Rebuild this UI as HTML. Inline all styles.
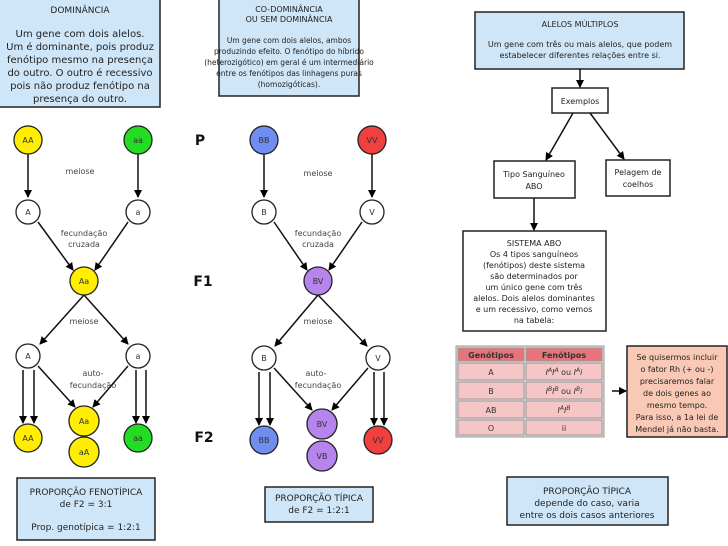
<!DOCTYPE html>
<html><head><meta charset="utf-8"><style>
body{margin:0;background:#fff}
svg{display:block;font-family:"DejaVu Sans","Liberation Sans",sans-serif}
</style></head><body>
<svg width="728" height="546" viewBox="0 0 728 546">
<defs><marker id="ar" markerWidth="8" markerHeight="8" refX="7" refY="4" orient="auto" markerUnits="userSpaceOnUse"><path d="M0,0 L8,4 L0,8 z" fill="#000"/></marker></defs>
<rect width="728" height="546" fill="#fff"/>
<g stroke="#222" stroke-width="1.5">
<rect x="-2" y="-2" width="162" height="109" fill="#cfe6f8"/>
<rect x="219" y="-2" width="140" height="98" fill="#cfe6f8"/>
<rect x="475" y="12" width="209" height="57" fill="#cfe6f8"/>
<rect x="17" y="478" width="138" height="62" fill="#cfe6f8"/>
<rect x="265" y="487" width="108" height="35" fill="#cfe6f8"/>
<rect x="507" y="477" width="161" height="48" fill="#cfe6f8"/>
<rect x="552" y="88" width="56" height="25" fill="#fff"/>
<rect x="494" y="161" width="81" height="37" fill="#fff"/>
<rect x="606" y="160" width="64" height="36" fill="#fff"/>
<rect x="463" y="231" width="143" height="100" fill="#fff"/>
<rect x="627" y="346" width="100" height="91" fill="#f9c9b6"/>
</g>
<g font-size="9" fill="#222" text-anchor="middle">
<text x="80" y="13">DOMINÂNCIA</text>
<g font-size="10"><text x="80" y="37">Um gene com dois alelos.</text><text x="80" y="50">Um é dominante, pois produz</text><text x="80" y="63">fenótipo mesmo na presença</text><text x="80" y="76">do outro. O outro é recessivo</text><text x="80" y="89">pois não produz fenótipo na</text><text x="80" y="102">presença do outro.</text></g>
<text x="289" y="12" font-size="8">CO-DOMINÂNCIA</text><text x="289" y="22" font-size="8">OU SEM DOMINÂNCIA</text>
<g font-size="7.5"><text x="289" y="43">Um gene com dois alelos, ambos</text><text x="289" y="54">produzindo efeito. O fenótipo do híbrido</text><text x="289" y="65">(heterozigótico) em geral é um intermediário</text><text x="289" y="76">entre os fenótipos das linhagens puras</text><text x="289" y="87">(homozigóticas).</text></g>
<text x="580" y="27" font-size="8">ALELOS MÚLTIPLOS</text>
<text x="580" y="47" font-size="8">Um gene com três ou mais alelos, que podem</text><text x="580" y="58" font-size="8">estabelecer diferentes relações entre si.</text>
<text x="580" y="104" font-size="8">Exemplos</text>
<text x="534" y="177" font-size="8">Tipo Sanguíneo</text><text x="534" y="189" font-size="8">ABO</text>
<text x="638" y="175" font-size="8">Pelagem de</text><text x="638" y="187" font-size="8">coelhos</text>
<g font-size="8"><text x="534" y="246">SISTEMA ABO</text><text x="534" y="257">Os 4 tipos sanguíneos</text><text x="534" y="268">(fenótipos) deste sistema</text><text x="534" y="279">são determinados por</text><text x="534" y="290">um único gene com três</text><text x="534" y="301">alelos. Dois alelos dominantes</text><text x="534" y="312">e um recessivo, como vemos</text><text x="534" y="323">na tabela:</text></g>
<g font-size="8"><text x="677" y="360">Se quisermos incluir</text><text x="677" y="372">o fator Rh (+ ou -)</text><text x="677" y="384">precisaremos falar</text><text x="677" y="396">de dois genes ao</text><text x="677" y="408">mesmo tempo.</text><text x="677" y="420">Para isso, a 1a lei de</text><text x="677" y="432">Mendel já não basta.</text></g>
<text x="86" y="495">PROPORÇÃO FENOTÍPICA</text><text x="86" y="507">de F2 = 3:1</text><text x="86" y="530">Prop. genotípica = 1:2:1</text>
<text x="319" y="501">PROPORÇÃO TÍPICA</text><text x="319" y="513">de F2 = 1:2:1</text>
<text x="587" y="494">PROPORÇÃO TÍPICA</text><text x="587" y="506">depende do caso, varia</text><text x="587" y="518">entre os dois casos anteriores</text>
<g font-size="8" fill="#444"><text x="80" y="174">meiose</text><text x="84" y="236">fecundação</text><text x="84" y="247">cruzada</text><text x="84" y="324">meiose</text><text x="93" y="376">auto-</text><text x="93" y="388">fecundação</text>
<text x="318" y="176">meiose</text><text x="318" y="236">fecundação</text><text x="318" y="247">cruzada</text><text x="318" y="324">meiose</text><text x="316" y="376">auto-</text><text x="318" y="388">fecundação</text></g>
<g font-size="14" font-weight="bold" fill="#111"><text x="200" y="145">P</text><text x="203" y="286">F1</text><text x="204" y="442">F2</text></g>
</g>
<g stroke="#999" stroke-width="1">
<rect x="456" y="346" width="148" height="91" fill="#ddd"/>
<rect x="458" y="348" width="66" height="13" fill="#e8737a"/><rect x="526" y="348" width="76" height="13" fill="#e8737a"/>
<rect x="458" y="363" width="66" height="17" fill="#f6c5c5"/><rect x="526" y="363" width="76" height="17" fill="#f6c5c5"/>
<rect x="458" y="382" width="66" height="17" fill="#f6c5c5"/><rect x="526" y="382" width="76" height="17" fill="#f6c5c5"/>
<rect x="458" y="401" width="66" height="17" fill="#f6c5c5"/><rect x="526" y="401" width="76" height="17" fill="#f6c5c5"/>
<rect x="458" y="420" width="66" height="15" fill="#f6c5c5"/><rect x="526" y="420" width="76" height="15" fill="#f6c5c5"/>
</g>
<g font-size="8" fill="#333" text-anchor="middle">
<text x="491" y="358" font-weight="bold">Genótipos</text><text x="564" y="358" font-weight="bold">Fenótipos</text>
<text x="491" y="375">A</text><text x="564" y="375" font-style="italic">I<tspan font-size="6" dy="-3">A</tspan><tspan dy="3">I</tspan><tspan font-size="6" dy="-3">A</tspan><tspan dy="3" font-style="normal"> ou </tspan>I<tspan font-size="6" dy="-3">A</tspan><tspan dy="3">i</tspan></text>
<text x="491" y="394">B</text><text x="564" y="394" font-style="italic">I<tspan font-size="6" dy="-3">B</tspan><tspan dy="3">I</tspan><tspan font-size="6" dy="-3">B</tspan><tspan dy="3" font-style="normal"> ou </tspan>I<tspan font-size="6" dy="-3">B</tspan><tspan dy="3">i</tspan></text>
<text x="491" y="413">AB</text><text x="564" y="413" font-style="italic">I<tspan font-size="6" dy="-3">A</tspan><tspan dy="3">I</tspan><tspan font-size="6" dy="-3">B</tspan></text>
<text x="491" y="431">O</text><text x="564" y="431">ii</text>
</g>
<g stroke="#111" stroke-width="1.5" fill="none" marker-end="url(#ar)">
<line x1="580" y1="69" x2="580" y2="87"/>
<line x1="573" y1="113" x2="546" y2="160"/>
<line x1="590" y1="113" x2="624" y2="159"/>
<line x1="534" y1="198" x2="534" y2="230"/>
<line x1="612" y1="391" x2="626" y2="391"/>
<line x1="28" y1="154" x2="28" y2="197"/>
<line x1="138" y1="154" x2="138" y2="197"/>
<line x1="38" y1="222" x2="73" y2="270"/>
<line x1="128" y1="222" x2="95" y2="270"/>
<line x1="84" y1="295" x2="40" y2="344"/>
<line x1="84" y1="295" x2="128" y2="344"/>
<line x1="23" y1="370" x2="23" y2="423"/><line x1="34" y1="370" x2="34" y2="423"/>
<line x1="38" y1="366" x2="75" y2="407"/><line x1="128" y1="366" x2="93" y2="407"/>
<line x1="136" y1="370" x2="136" y2="423"/><line x1="146" y1="370" x2="146" y2="423"/>
<line x1="264" y1="154" x2="264" y2="197"/>
<line x1="372" y1="154" x2="372" y2="197"/>
<line x1="274" y1="222" x2="307" y2="270"/>
<line x1="362" y1="222" x2="329" y2="270"/>
<line x1="318" y1="295" x2="275" y2="346"/>
<line x1="318" y1="295" x2="367" y2="346"/>
<line x1="259" y1="372" x2="259" y2="425"/><line x1="270" y1="372" x2="270" y2="425"/>
<line x1="274" y1="368" x2="312" y2="410"/><line x1="368" y1="368" x2="332" y2="410"/>
<line x1="374" y1="372" x2="374" y2="425"/><line x1="384" y1="372" x2="384" y2="425"/>
</g>
<g stroke="#222" stroke-width="1.3">
<circle cx="28" cy="140" r="14" fill="#ffee00"/><circle cx="138" cy="140" r="14" fill="#22dd22"/>
<circle cx="28" cy="212" r="12" fill="#fff"/><circle cx="138" cy="212" r="12" fill="#fff"/>
<circle cx="84" cy="281" r="14" fill="#ffee00"/>
<circle cx="28" cy="356" r="12" fill="#fff"/><circle cx="138" cy="356" r="12" fill="#fff"/>
<circle cx="28" cy="438" r="14" fill="#ffee00"/><circle cx="84" cy="421" r="15" fill="#ffee00"/><circle cx="84" cy="452" r="15" fill="#ffee00"/><circle cx="138" cy="438" r="14" fill="#22dd22"/>
<circle cx="264" cy="140" r="14" fill="#6f8ef0"/><circle cx="372" cy="140" r="14" fill="#f04040"/>
<circle cx="264" cy="212" r="12" fill="#fff"/><circle cx="372" cy="212" r="12" fill="#fff"/>
<circle cx="318" cy="281" r="14" fill="#b784ee"/>
<circle cx="264" cy="358" r="12" fill="#fff"/><circle cx="378" cy="358" r="12" fill="#fff"/>
<circle cx="264" cy="440" r="14" fill="#6f8ef0"/><circle cx="322" cy="424" r="15" fill="#b784ee"/><circle cx="322" cy="456" r="15" fill="#b784ee"/><circle cx="378" cy="440" r="14" fill="#f04040"/>
</g>
<g font-size="8" fill="#333" text-anchor="middle">
<text x="28" y="143">AA</text><text x="138" y="143">aa</text><text x="28" y="215">A</text><text x="138" y="215">a</text><text x="84" y="284">Aa</text><text x="28" y="359">A</text><text x="138" y="359">a</text><text x="28" y="441">AA</text><text x="84" y="424">Aa</text><text x="84" y="455">aA</text><text x="138" y="441">aa</text>
<text x="264" y="143">BB</text><text x="372" y="143">VV</text><text x="264" y="215">B</text><text x="372" y="215">V</text><text x="318" y="284">BV</text><text x="264" y="361">B</text><text x="378" y="361">V</text><text x="264" y="443">BB</text><text x="322" y="427">BV</text><text x="322" y="459">VB</text><text x="378" y="443">VV</text>
</g>
</svg>
</body></html>
